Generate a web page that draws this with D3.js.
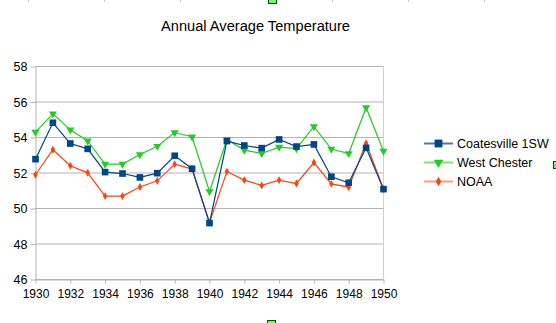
<!DOCTYPE html>
<html>
<head>
<meta charset="utf-8">
<script src="https://cdn.jsdelivr.net/npm/d3@7"></script>
<style>
  html, body { margin: 0; padding: 0; background: #fff; }
  svg { display: block; font-family: "Liberation Sans", Arial, sans-serif; }
</style>
</head>
<body>
<svg id="chart" width="556" height="323"></svg>
<script>
// Annual mean temperature (°F), 1930–1950
const years = d3.range(1930, 1951);
const coatesville = [52.78, 54.83, 53.66, 53.36, 52.05, 51.97, 51.75, 51.99, 52.97, 52.24,
                     49.18, 53.80, 53.55, 53.40, 53.89, 53.49, 53.61, 51.79, 51.45, 53.42, 51.09];
const westChester = [54.30, 55.33, 54.43, 53.81, 52.50, 52.50, 53.04, 53.51, 54.28, 54.04,
                     50.96, 53.89, 53.29, 53.10, 53.46, 53.38, 54.62, 53.35, 53.10, 55.69, 53.23];
const noaa        = [51.90, 53.31, 52.41, 52.01, 50.70, 50.70, 51.21, 51.56, 52.50, 52.22,
                     49.20, 52.08, 51.60, 51.30, 51.60, 51.41, 52.59, 51.39, 51.20, 53.68, 51.10];
const seriesNames = ["Coatesville 1SW", "West Chester", "NOAA"];
const yTicks = [46, 48, 50, 52, 54, 56, 58];
const xTicks = d3.range(1930, 1951, 2);

const svg = d3.select("#chart");

const x = d3.scaleLinear().domain([1930, 1950]).range([35.5, 383.5]);
const y = d3.scaleLinear().domain([46, 58]).range([279.5, 66.5]);

// Title
svg.append("text")
  .attr("x", 255.5).attr("y", 30.5)
  .attr("text-anchor", "middle")
  .attr("font-size", 15.5)
  .attr("textLength", 189).attr("lengthAdjust", "spacingAndGlyphs")
  .attr("fill", "#000")
  .text("Annual Average Temperature");

// Horizontal gridlines
svg.append("g").selectAll("line").data(yTicks).join("line")
  .attr("x1", x(1930)).attr("x2", x(1950))
  .attr("y1", d => y(d)).attr("y2", d => y(d))
  .attr("stroke", "#b3b3b3").attr("stroke-width", 1);

// Right edge of the plot area
svg.append("line")
  .attr("x1", x(1950)).attr("x2", x(1950))
  .attr("y1", y(58)).attr("y2", y(46))
  .attr("stroke", "#d0d0d0");

// Y axis
const yAxis = svg.append("g")
  .attr("transform", `translate(${x(1930)},0)`)
  .call(d3.axisLeft(y).tickValues(yTicks).tickSize(5).tickSizeOuter(0).tickPadding(3));
yAxis.select(".domain").attr("stroke", "#b3b3b3");
yAxis.selectAll(".tick line").attr("stroke", "#b3b3b3");
yAxis.selectAll(".tick text")
  .attr("font-size", 12.5).attr("fill", "#000")
  .attr("font-family", "Liberation Sans, Arial, sans-serif");

// X axis
const xAxis = svg.append("g")
  .attr("transform", `translate(0,${y(46)})`)
  .call(d3.axisBottom(x).tickValues(xTicks).tickFormat(d3.format("d"))
        .tickSize(4).tickSizeOuter(0).tickPadding(6));
xAxis.select(".domain").attr("stroke", "#b3b3b3");
xAxis.selectAll(".tick line").attr("stroke", "#b3b3b3");
xAxis.selectAll(".tick text")
  .attr("font-size", 12).attr("fill", "#000")
  .attr("font-family", "Liberation Sans, Arial, sans-serif");

// Series definitions
const series = [
  { name: seriesNames[0], values: coatesville, color: "#004586", legendLine: "#4a78a8",
    symbol: d3.symbolSquare, size: 44, rotate: 0 },
  { name: seriesNames[1], values: westChester, color: "#22cc22", legendLine: "#7ce37c",
    symbol: d3.symbolTriangle, size: 28, rotate: 180 },
  { name: seriesNames[2], values: noaa, color: "#ff420e", legendLine: "#ff9a7e",
    symbol: d3.symbolDiamond, size: 18, rotate: 0 }
];

const line = d3.line().x(d => x(d[0])).y(d => y(d[1]));

// Draw in reverse so the first series sits on top
series.slice().reverse().forEach(s => {
  const pts = years.map((yr, i) => [yr, s.values[i]]);
  const g = svg.append("g");
  g.append("path").datum(pts)
    .attr("d", line)
    .attr("fill", "none")
    .attr("stroke", s.color)
    .attr("stroke-width", 1.2);
  g.selectAll("path.pt").data(pts).join("path")
    .attr("class", "pt")
    .attr("d", d3.symbol(s.symbol, s.size))
    .attr("transform", d => `translate(${x(d[0])},${y(d[1])}) rotate(${s.rotate})`)
    .attr("fill", s.color);
});

// Legend
const legend = svg.append("g");
const legendY = [143.5, 162.5, 181.5];
series.forEach((s, i) => {
  const row = legend.append("g").attr("transform", `translate(0,${legendY[i]})`);
  row.append("line")
    .attr("x1", 424).attr("x2", 453)
    .attr("stroke", s.legendLine).attr("stroke-width", 2);
  row.append("path")
    .attr("d", d3.symbol(s.symbol, s.size * 1.4))
    .attr("transform", `translate(438.5,0) rotate(${s.rotate})`)
    .attr("fill", s.color);
  row.append("text")
    .attr("x", 457).attr("y", 4.5)
    .attr("font-size", 12.5).attr("fill", "#000")
    .text(s.name);
});

// Frame handles and ruler marks along the edges
const handles = [[268, -4], [267, 320], [553, 161]];
svg.append("g").selectAll("rect").data(handles).join("rect")
  .attr("x", d => d[0] + 0.5).attr("y", d => d[1] + 0.5)
  .attr("width", 8).attr("height", 7)
  .attr("fill", "#66ff66").attr("stroke", "#1a3a1a").attr("stroke-width", 1);
const rulerMarks = [28, 104, 180, 332, 408, 484];
svg.append("g").selectAll("line").data(rulerMarks).join("line")
  .attr("x1", d => d + 0.5).attr("x2", d => d + 0.5)
  .attr("y1", 0).attr("y2", 2)
  .attr("stroke", "#c8c8c8");
</script>
</body>
</html>
